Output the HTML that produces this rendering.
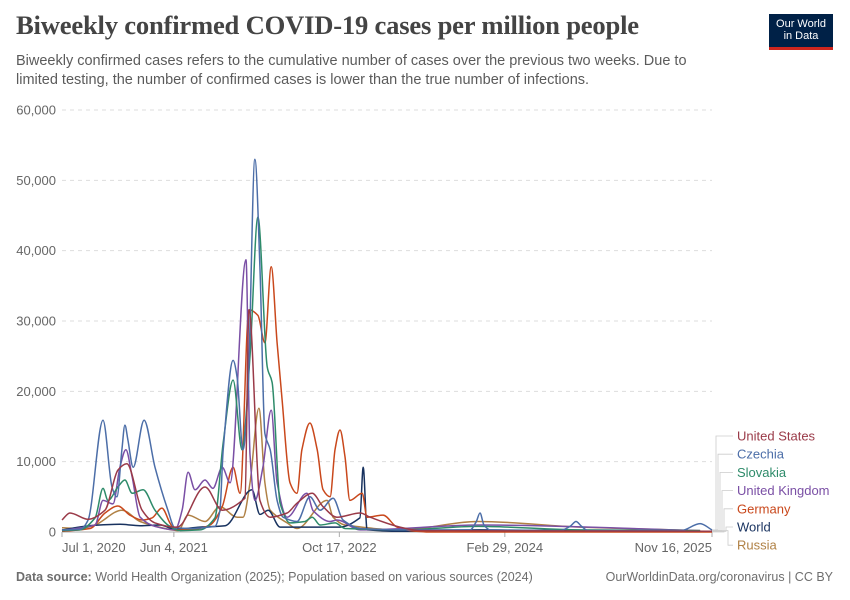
<!DOCTYPE html>
<html><head><meta charset="utf-8">
<style>
body{margin:0;background:#fff;font-family:"Liberation Sans",sans-serif;}
#wrap{position:relative;width:850px;height:600px;overflow:hidden;}
h1{position:absolute;left:16px;top:10px;margin:0;font-family:"Liberation Serif",serif;font-size:26.6px;font-weight:bold;color:#444;letter-spacing:-0.2px}
.sub{position:absolute;left:16px;top:52px;width:700px;font-size:14.5px;line-height:19px;color:#5b5b5b}
.logo{position:absolute;left:769px;top:14px;width:64px;height:36px;background:#002147;border-bottom:3px solid #ce261e;color:#fff;font-size:11px;line-height:12px;text-align:center;padding-top:4px;box-sizing:border-box}
.foot{position:absolute;top:570px;font-size:12.5px;color:#6e6e6e}
</style></head><body>
<div id="wrap">
<h1>Biweekly confirmed COVID-19 cases per million people</h1>
<div class="sub">Biweekly confirmed cases refers to the cumulative number of cases over the previous two weeks. Due to limited testing, the number of confirmed cases is lower than the true number of infections.</div>
<div class="logo">Our World<br>in Data</div>
<svg id="chart" width="850" height="600" style="position:absolute;left:0;top:0"></svg>
<div class="foot" style="left:16px"><b>Data source:</b> World Health Organization (2025); Population based on various sources (2024)</div>
<div class="foot" style="right:17px">OurWorldinData.org/coronavirus | CC BY</div>
</div>
<script>
// days since Jul 1, 2020
const yTicks=[0,10000,20000,30000,40000,50000,60000];
const xTickDays=[0,338,838,1338,1964];
const xTickLabels=["Jul 1, 2020","Jun 4, 2021","Oct 17, 2022","Feb 29, 2024","Nov 16, 2025"];
const seriesNames=["United States","Czechia","Slovakia","United Kingdom","Germany","World","Russia"];
const seriesColors=["#9a3a48","#4c6ea8","#2e8b6a","#7a4fa5","#c9481c","#18325f","#b08145"];
const usDays=[0,24,79,130,169,196,242,281,341,348,432,484,553,565,598,629,680,710,756,789,831,901,931,1021,1082,1964];
const usVals=[1700,2700,1800,3100,8800,9700,3100,1300,700,700,6400,3100,4800,31600,4500,2100,2700,4100,5500,3600,2100,2700,2100,700,200,100];
const czDays=[0,54,79,124,151,166,181,190,199,215,248,281,320,341,387,462,477,487,517,529,547,562,583,598,613,629,650,668,710,749,780,819,849,901,1021,1233,1251,1263,1275,1293,1505,1535,1553,1570,1590,1870,1928,1964];
const czVals=[300,400,1700,15900,6400,5000,11700,15200,13100,9200,15900,9200,3100,600,500,800,3000,11700,24400,22000,11700,20000,53000,37700,14000,11700,4500,2100,1500,5000,3100,4800,1700,500,300,300,1400,2700,1000,300,200,800,1500,800,200,200,1200,300];
const skDays=[0,54,100,124,139,169,190,212,245,281,320,357,417,462,487,517,544,568,592,620,635,659,689,734,756,780,825,855,1021,1257,1565,1928];
const skVals=[200,300,2000,6200,4500,6400,7400,5500,6000,3100,1000,200,300,2000,12700,21600,11700,25000,44800,23500,21200,4100,1300,1500,2100,1000,1300,500,300,800,300,200];
const ukDays=[0,100,124,154,175,193,212,236,281,341,363,381,402,432,456,484,508,556,568,583,607,632,650,680,740,759,810,831,901,1263,1928];
const ukVals=[200,1000,4500,4000,9200,11700,7800,2100,800,300,3100,8500,6000,7400,6200,9200,7000,38700,11000,4500,9200,17300,7000,2100,5500,3000,1500,1700,300,1000,200];
const deDays=[0,85,130,169,205,242,272,302,326,341,402,447,484,517,538,565,592,613,632,650,665,689,710,725,749,771,789,810,825,840,855,870,907,922,970,1012,1052,1112,1964];
const deVals=[100,500,2700,3700,2400,1700,2000,3400,1300,300,400,1000,3600,9200,5500,31600,30800,26900,37700,26900,18800,7000,5500,11700,15500,11700,6000,5000,11700,14500,10700,4500,5500,2100,2400,700,200,0,0];
const wdDays=[0,85,175,236,296,341,417,493,574,598,623,659,840,900,910,922,1021,1263,1928,1964];
const wdVals=[300,900,1100,900,1000,400,700,900,6000,2500,3100,700,700,2000,9200,300,100,300,100,100];
const ruDays=[0,54,100,181,236,311,351,381,432,477,529,547,568,595,613,629,680,710,801,819,855,1021,1257,1565,1928];
const ruVals=[600,500,1000,3100,1500,500,200,2400,1500,3600,2100,2100,7000,17600,7000,3100,1300,500,4500,2100,1000,300,1500,700,200];
const allDays=[usDays,czDays,skDays,ukDays,deDays,wdDays,ruDays];
const allVals=[usVals,czVals,skVals,ukVals,deVals,wdVals,ruVals];

const X0=62,X1=712,Y0=532,Y1=110,DMAX=1964,VMAX=60000;
const xs=d=>X0+d/DMAX*(X1-X0);
const ys=v=>Y0-v/VMAX*(Y0-Y1);
const svg=document.getElementById('chart');
const NS="http://www.w3.org/2000/svg";
function mk(t,a){const e=document.createElementNS(NS,t);for(const k in a)e.setAttribute(k,a[k]);svg.appendChild(e);return e;}
function monotone(px,py){
  const n=px.length;if(n<2)return '';
  const dx=[],m=[],t=[];
  for(let i=0;i<n-1;i++){dx[i]=px[i+1]-px[i];m[i]=(py[i+1]-py[i])/(dx[i]||1);}
  t[0]=m[0];t[n-1]=m[n-2];
  for(let i=1;i<n-1;i++){t[i]=(m[i-1]*m[i]<=0)?0:(dx[i-1]+dx[i])/((dx[i-1]*2+dx[i])/(3*m[i-1])+(dx[i-1]+2*dx[i])/(3*m[i]));
    if(!isFinite(t[i]))t[i]=0;}
  let d='M'+px[0].toFixed(1)+','+py[0].toFixed(1);
  for(let i=0;i<n-1;i++){const h=dx[i]/3;
    d+=` C${(px[i]+h).toFixed(1)},${(py[i]+t[i]*h).toFixed(1)} ${(px[i+1]-h).toFixed(1)},${(py[i+1]-t[i+1]*h).toFixed(1)} ${px[i+1].toFixed(1)},${py[i+1].toFixed(1)}`;}
  return d;
}

yTicks.forEach(v=>{
  if(v>0){const g=mk('line',{x1:X0,x2:X1,y1:ys(v),y2:ys(v),stroke:'#ddd','stroke-dasharray':'4,4'});
  
  }
  const t=mk('text',{x:56,y:ys(v)+4.5,'text-anchor':'end','font-size':13,fill:'#666','font-family':'Liberation Sans, sans-serif'});
  t.textContent=v.toLocaleString('en-US');
  
  
});
const ax=mk('line',{x1:X0,x2:X1,y1:Y0,y2:Y0,stroke:'#aaa'});


xTickDays.forEach((d,i)=>{
  const tk=mk('line',{x1:xs(d),x2:xs(d),y1:Y0,y2:Y0+5,stroke:'#aaa'});
  
  
  const anchor=i==0?'start':(i==xTickDays.length-1?'end':'middle');
  const t=mk('text',{x:xs(d),y:552,'text-anchor':anchor,'font-size':13,fill:'#666','font-family':'Liberation Sans, sans-serif'});
  t.textContent=xTickLabels[i];
  
  
});
for(let s=allDays.length-1;s>=0;s--){
  const d=allDays[s],v=allVals[s];
  const p=mk('path',{d:monotone(d.map(xs),v.map(ys)),fill:'none',stroke:seriesColors[s],'stroke-width':1.5,'stroke-linejoin':'round'});
  
  
}
seriesNames.forEach((n,i)=>{
  const ly=436+i*18.2;
  const lastV=allVals[i][allVals[i].length-1];
  const bx=716+i*2;
  const c=mk('polyline',{points:`${X1},${ys(lastV)} ${bx},${ys(lastV)} ${bx},${ly} ${733},${ly}`,fill:'none',stroke:'#ccc','stroke-width':0.8});
  
  
  const t=mk('text',{x:737,y:ly+4.5,'font-size':13,fill:seriesColors[i],'font-family':'Liberation Sans, sans-serif'});
  t.textContent=n;
  
  
});
</script>
</body></html>
